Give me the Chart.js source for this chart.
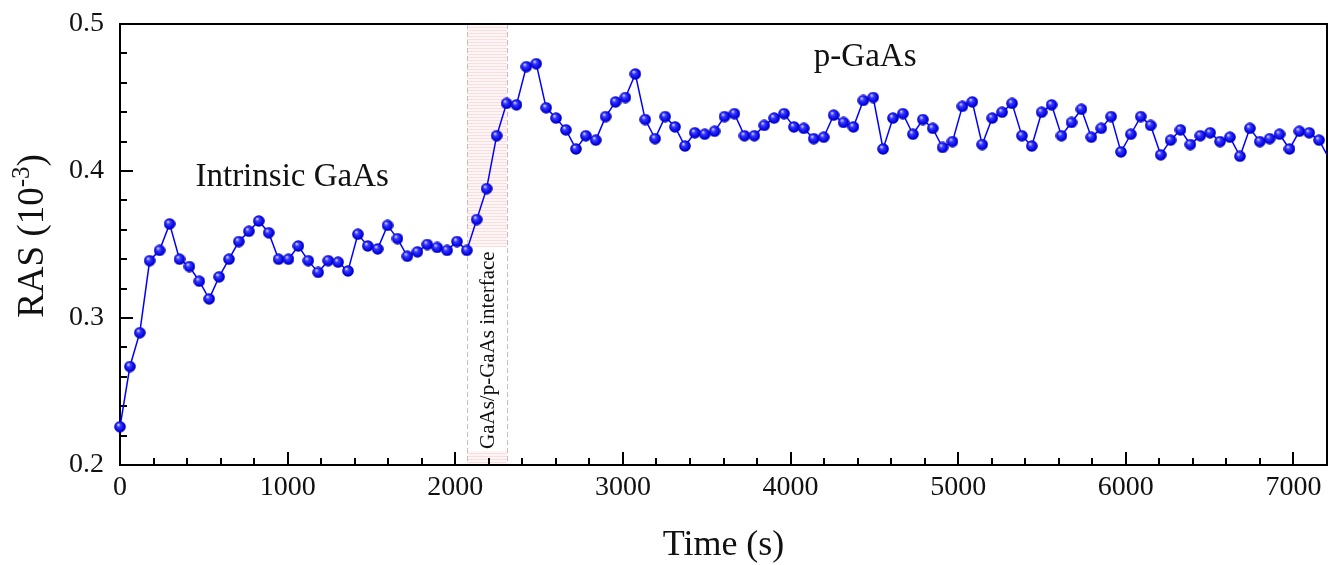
<!DOCTYPE html>
<html lang="en">
<head>
<meta charset="UTF-8">
<title>RAS vs Time</title>
<script src="https://cdn.jsdelivr.net/npm/chart.js"></script>
<style>
    body { margin: 0; padding: 0; background: #fff; }
    .wrap { width: 1336px; height: 565px; }
</style>
</head>
<body>
<div class="wrap"><canvas id="ras" width="1336" height="565"></canvas></div>
<script>
// sample times (s)
const times = [
    0, 59, 118, 177, 236, 296, 355, 414, 473, 532,
    591, 650, 709, 769, 828, 887, 946, 1005, 1064, 1123,
    1182, 1242, 1301, 1360, 1419, 1478, 1537, 1596, 1655, 1714,
    1774, 1833, 1892, 1951, 2010, 2069, 2128, 2187, 2247, 2306,
    2365, 2424, 2483, 2542, 2601, 2660, 2720, 2779, 2838, 2897,
    2956, 3015, 3074, 3133, 3192, 3252, 3311, 3370, 3429, 3488,
    3547, 3606, 3665, 3725, 3784, 3843, 3902, 3961, 4020, 4079,
    4138, 4198, 4257, 4316, 4375, 4434, 4493, 4552, 4611, 4670,
    4730, 4789, 4848, 4907, 4966, 5025, 5084, 5143, 5203, 5262,
    5321, 5380, 5439, 5498, 5557, 5616, 5676, 5735, 5794, 5853,
    5912, 5971, 6030, 6089, 6148, 6208, 6267, 6326, 6385, 6444,
    6503, 6562, 6621, 6681, 6740, 6799, 6858, 6917, 6976, 7035,
    7094, 7153, 7200
];

// RAS signal (10^-3)
const rasValues = [
    0.226, 0.267, 0.290, 0.339, 0.346, 0.364, 0.340, 0.335, 0.325, 0.313,
    0.328, 0.340, 0.352, 0.359, 0.366, 0.358, 0.340, 0.340, 0.349, 0.339,
    0.331, 0.339, 0.338, 0.332, 0.357, 0.349, 0.347, 0.363, 0.354, 0.342,
    0.345, 0.350, 0.348, 0.346, 0.352, 0.346, 0.367, 0.388, 0.424, 0.446,
    0.445, 0.471, 0.473, 0.443, 0.436, 0.428, 0.415, 0.424, 0.421, 0.437,
    0.447, 0.450, 0.466, 0.435, 0.422, 0.437, 0.430, 0.417, 0.426, 0.425,
    0.427, 0.437, 0.439, 0.424, 0.424, 0.431, 0.436, 0.439, 0.430, 0.429,
    0.422, 0.423, 0.438, 0.433, 0.430, 0.448, 0.450, 0.415, 0.436, 0.439,
    0.425, 0.435, 0.429, 0.416, 0.420, 0.444, 0.447, 0.418, 0.436, 0.440,
    0.446, 0.424, 0.417, 0.440, 0.445, 0.424, 0.433, 0.442, 0.423, 0.429,
    0.437, 0.413, 0.425, 0.437, 0.431, 0.411, 0.421, 0.428, 0.418, 0.424,
    0.426, 0.420, 0.423, 0.410, 0.429, 0.420, 0.422, 0.425, 0.415, 0.427,
    0.426, 0.421, 0.411
];

const xRange = [0, 7200];
const yRange = [0.2, 0.5];
const xTickValues = [0, 1000, 2000, 3000, 4000, 5000, 6000, 7000];
const yTickValues = [0.2, 0.3, 0.4, 0.5];
const xMajor = 1000, xMinor = 200;
const yMinor = 0.02;

// shaded interface window (s)
const interfaceStart = 2070;
const interfaceEnd = 2310;
const interfaceLabel = 'GaAs/p-GaAs interface';

const regionNotes = [
    { text: 'Intrinsic GaAs', t: 1027, v: 0.3957 },
    { text: 'p-GaAs', t: 4445, v: 0.4774 }
];

const SERIF = "'Liberation Serif', 'DejaVu Serif', serif";

function makeBall(d) {
    const c = document.createElement('canvas');
    c.width = d; c.height = d;
    const g = c.getContext('2d');
    const r = d / 2;
    const grad = g.createRadialGradient(r * 0.7, r * 0.62, r * 0.05, r, r, r);
    grad.addColorStop(0, '#d8dcff');
    grad.addColorStop(0.3, '#3a3aff');
    grad.addColorStop(0.8, '#0000e0');
    grad.addColorStop(1, '#00009a');
    g.fillStyle = grad;
    g.beginPath();
    g.arc(r, r, r - 0.2, 0, Math.PI * 2);
    g.fill();
    return c;
}

function stripes(ctx) {
    const c = document.createElement('canvas');
    c.width = 4; c.height = 3;
    const g = c.getContext('2d');
    g.fillStyle = '#fef6f6';
    g.fillRect(0, 0, 4, 3);
    g.fillStyle = '#fadede';
    g.fillRect(0, 0, 4, 1);
    return ctx.createPattern(c, 'repeat');
}

const ball = makeBall(12);
const lastIdx = rasValues.length - 1;

const decor = {
    id: 'decor',
    beforeDatasetsDraw(chart) {
        const { ctx, chartArea: a, scales: { x, y } } = chart;
        const x0 = x.getPixelForValue(interfaceStart);
        const x1 = x.getPixelForValue(interfaceEnd);

        ctx.save();
        ctx.fillStyle = stripes(ctx);
        ctx.fillRect(x0, a.top, x1 - x0, a.bottom - a.top);

        ctx.font = '21px ' + SERIF;
        const w = ctx.measureText(interfaceLabel).width;
        const base = a.bottom - 16;
        ctx.fillStyle = '#fff';
        ctx.fillRect(x0, base - w - 4, x1 - x0, w + 6);

        ctx.setLineDash([5, 3]);
        ctx.strokeStyle = '#cbbcbc';
        ctx.lineWidth = 1;
        [x0, x1].forEach(px => {
            ctx.beginPath();
            ctx.moveTo(Math.round(px) + 0.5, a.top);
            ctx.lineTo(Math.round(px) + 0.5, a.bottom);
            ctx.stroke();
        });
        ctx.setLineDash([]);

        ctx.save();
        ctx.translate((x0 + x1) / 2 + 7, base);
        ctx.rotate(-Math.PI / 2);
        ctx.fillStyle = '#111';
        ctx.textAlign = 'left';
        ctx.textBaseline = 'alphabetic';
        ctx.fillText(interfaceLabel, 0, 0);
        ctx.restore();

        // frame
        ctx.strokeStyle = '#000';
        ctx.lineWidth = 2;
        ctx.strokeRect(a.left, a.top, a.right - a.left, a.bottom - a.top);

        // inward ticks
        ctx.beginPath();
        for (let t = xMinor; t < xRange[1]; t += xMinor) {
            const px = Math.round(x.getPixelForValue(t));
            const len = (t % xMajor === 0) ? 13 : 7;
            ctx.moveTo(px, a.bottom);
            ctx.lineTo(px, a.bottom - len);
        }
        const nMinor = Math.round((yRange[1] - yRange[0]) / yMinor);
        for (let k = 1; k < nMinor; k++) {
            const py = Math.round(y.getPixelForValue(yRange[0] + k * yMinor));
            const len = (k % 5 === 0) ? 13 : 7;
            ctx.moveTo(a.left, py);
            ctx.lineTo(a.left + len, py);
        }
        ctx.stroke();
        ctx.restore();
    },
    afterDraw(chart) {
        const { ctx, chartArea: a, scales: { x, y } } = chart;
        ctx.save();
        ctx.fillStyle = '#111';
        ctx.textAlign = 'center';
        ctx.textBaseline = 'middle';
        ctx.font = '33px ' + SERIF;
        regionNotes.forEach(n => {
            ctx.fillText(n.text, x.getPixelForValue(n.t), y.getPixelForValue(n.v));
        });

        // x title
        ctx.font = '36px ' + SERIF;
        ctx.textBaseline = 'alphabetic';
        ctx.fillText('Time (s)', (a.left + a.right) / 2, 555);

        // y title with superscript
        ctx.translate(43, 236);
        ctx.rotate(-Math.PI / 2);
        const big = '37px ' + SERIF, small = '25px ' + SERIF;
        ctx.font = big;
        const w1 = ctx.measureText('RAS (10').width;
        const w3 = ctx.measureText(')').width;
        ctx.font = small;
        const w2 = ctx.measureText('-3').width;
        const sx = -(w1 + w2 + w3) / 2;
        ctx.textAlign = 'left';
        ctx.font = big;
        ctx.fillText('RAS (10', sx, 0);
        ctx.font = small;
        ctx.fillText('-3', sx + w1, -14);
        ctx.font = big;
        ctx.fillText(')', sx + w1 + w2, 0);
        ctx.restore();
    }
};

new Chart(document.getElementById('ras'), {
    type: 'line',
    data: {
        datasets: [{
            data: times.map((t, i) => ({ x: t, y: rasValues[i] })),
            borderColor: '#0000ff',
            borderWidth: 1.5,
            tension: 0,
            pointStyle: ball,
            pointRadius: rasValues.map((_, i) => i === lastIdx ? 0 : 6),
            pointHoverRadius: 0,
            clip: false
        }]
    },
    options: {
        responsive: false,
        devicePixelRatio: 1,
        animation: false,
        layout: { padding: { left: 0, top: 24, right: 9, bottom: 0 } },
        plugins: { legend: { display: false }, tooltip: { enabled: false } },
        scales: {
            x: {
                type: 'linear',
                min: xRange[0],
                max: xRange[1],
                grid: { display: false, drawTicks: false },
                border: { display: false },
                afterBuildTicks(scale) { scale.ticks = xTickValues.map(v => ({ value: v })); },
                ticks: {
                    autoSkip: false,
                    maxRotation: 0,
                    padding: 6,
                    color: '#111',
                    font: { family: SERIF, size: 28 },
                    callback: v => String(v)
                },
                afterFit(scale) {
                    scale.height = 100;
                    scale.paddingLeft = 0;
                    scale.paddingRight = 0;
                }
            },
            y: {
                type: 'linear',
                min: yRange[0],
                max: yRange[1],
                grid: { display: false, drawTicks: false },
                border: { display: false },
                afterBuildTicks(scale) { scale.ticks = yTickValues.map(v => ({ value: v })); },
                ticks: {
                    autoSkip: false,
                    padding: 16,
                    color: '#111',
                    font: { family: SERIF, size: 28 },
                    callback: v => v.toFixed(1)
                },
                afterFit(scale) {
                    scale.width = 120;
                    scale.paddingTop = 0;
                    scale.paddingBottom = 0;
                }
            }
        }
    },
    plugins: [decor]
});
</script>
</body>
</html>
